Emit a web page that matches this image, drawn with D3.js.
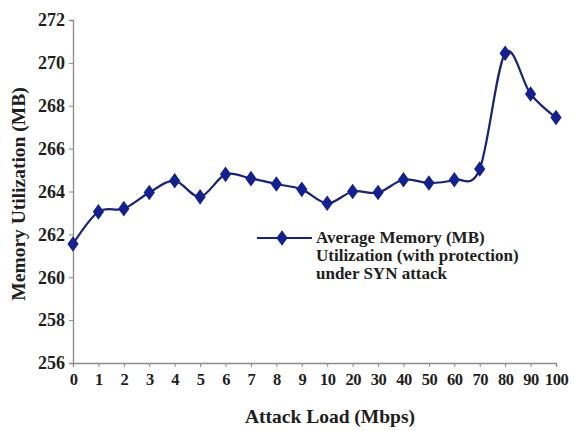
<!DOCTYPE html>
<html>
<head>
<meta charset="utf-8">
<script src="https://cdn.jsdelivr.net/npm/d3@7"></script>
<style>
  body { margin: 0; background: #fff; }
  svg text { font-family: "Liberation Serif", "Times New Roman", serif; font-weight: bold; fill: #1e1e1e; }
</style>
</head>
<body>
<div class="chart"></div>
<script>
var w = 574;
var h = 431;
var margin = {top: 20, right: 18, bottom: 68, left: 73};

// data
var loads = ["0", "1", "2", "3", "4", "5", "6", "7", "8", "9", "10", "20", "30", "40", "50", "60", "70", "80", "90", "100"];
var memory = [261.55, 263.05, 263.2, 263.95, 264.5, 263.75, 264.8, 264.6, 264.35, 264.1, 263.45, 264.0, 263.95, 264.55, 264.4, 264.55, 265.05, 270.45, 268.55, 267.45];
var yTicks = [256, 258, 260, 262, 264, 266, 268, 270, 272];
var legendLines = ["Average Memory (MB)", "Utilization (with protection)", "under SYN attack"];

var lineColor = "#1b2470";
var markColor = "#14208c";

var svg = d3.select(".chart")
            .append("svg")
            .attr("width", w)
            .attr("height", h);

var xScale = d3.scalePoint()
    .domain(loads)
    .range([margin.left, w - margin.right]);

var yScale = d3.scaleLinear()
    .domain([256, 272])
    .range([h - margin.bottom, margin.top]);

// axes
var yAxis = svg.append("g")
   .attr("transform", "translate(" + margin.left + ",0)")
   .call(d3.axisLeft(yScale).tickValues(yTicks).tickSize(4).tickPadding(4));

var xAxis = svg.append("g")
   .attr("transform", "translate(0," + (h - margin.bottom) + ")")
   .call(d3.axisBottom(xScale).tickSize(4).tickPadding(6));

[yAxis, xAxis].forEach(function (g) {
  g.select(".domain").attr("stroke", "#8a8a8a").attr("stroke-width", 1.3);
  g.selectAll(".tick line").attr("stroke", "#8a8a8a");
  g.selectAll(".tick text").attr("fill", "#1e1e1e").style("font-family", "Liberation Serif, serif").style("font-weight", "bold");
});
yAxis.selectAll(".tick text").style("font-size", "18px");
xAxis.selectAll(".tick text").style("font-size", "16.5px").attr("letter-spacing", "-0.5");

// axis titles
svg.append("text")
   .attr("transform", "translate(25,194) rotate(-90)")
   .attr("text-anchor", "middle")
   .style("font-size", "19.5px")
   .text("Memory Utilization (MB)");

svg.append("text")
   .attr("x", 330)
   .attr("y", 423)
   .attr("text-anchor", "middle")
   .style("font-size", "19.5px")
   .text("Attack Load (Mbps)");

// line
var line = d3.line()
    .x(function (d, i) { return xScale(loads[i]); })
    .y(function (d) { return yScale(d); })
    .curve(d3.curveCatmullRom.alpha(0));

svg.append("path")
   .datum(memory)
   .attr("d", line)
   .attr("fill", "none")
   .attr("stroke", lineColor)
   .attr("stroke-width", 2.2);

var diamond = d3.symbol().type(d3.symbolDiamond).size(70);

svg.selectAll(".pt")
   .data(memory)
   .enter()
   .append("path")
   .attr("class", "pt")
   .attr("d", diamond)
   .attr("transform", function (d, i) { return "translate(" + xScale(loads[i]) + "," + yScale(d) + ") scale(1.25,1)"; })
   .attr("fill", markColor);

// legend
var lg = svg.append("g").attr("transform", "translate(257,238)");
lg.append("line")
  .attr("x1", 0).attr("x2", 55)
  .attr("stroke", lineColor)
  .attr("stroke-width", 2.2);
lg.append("path")
  .attr("d", diamond)
  .attr("transform", "translate(25,0) scale(1.25,1)")
  .attr("fill", markColor);
lg.selectAll(".lgText")
  .data(legendLines)
  .enter()
  .append("text")
  .attr("class", "lgText")
  .attr("x", 59)
  .attr("y", function (d, i) { return 5 + i * 18; })
  .style("font-size", "17px")
  .text(function (d) { return d; });
</script>
</body>
</html>
